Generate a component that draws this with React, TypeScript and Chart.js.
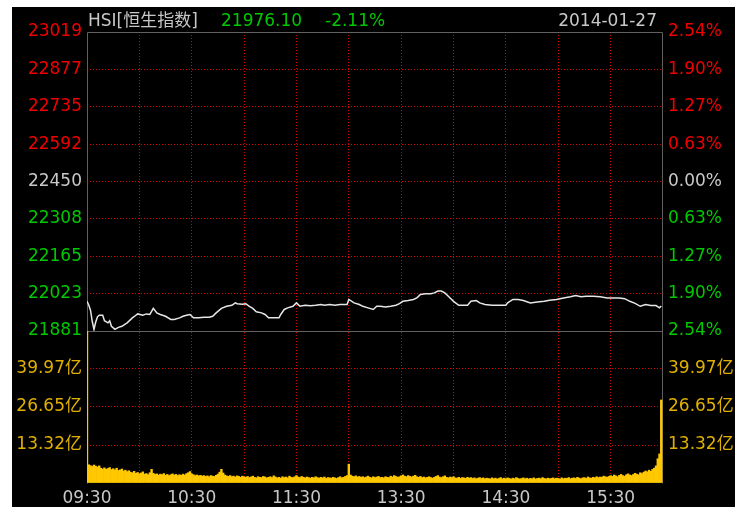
import React, { useEffect, useRef } from 'react';
import { Chart, registerables } from 'chart.js';

Chart.register(...registerables);

// ---- header text ----
const indexName = 'HSI[恒生指数]';
const lastPrice = '21976.10';
const changePct = '-2.11%';
const tradeDate = '2014-01-27';
const preClose = 22450;

// ---- price line (minute index from 09:30, index value) ----
const priceMinutes = [
  0, 1, 2, 3, 4, 5, 6, 7, 9, 10, 12, 13, 14, 16, 18, 20, 23, 26, 28, 29,
  32, 34, 36, 38, 40, 42, 45, 48, 50, 53, 55, 57, 59, 61, 64, 67, 70, 72, 74, 77,
  80, 83, 85, 86, 89, 91, 93, 95, 97, 100, 102, 104, 107, 110, 111, 113, 115, 118, 120, 122,
  125, 128, 131, 134, 136, 139, 142, 145, 149, 150, 153, 156, 158, 161, 164, 166, 168, 171, 174, 177,
  179, 181, 184, 187, 189, 191, 194, 197, 199, 201, 203, 205, 207, 210, 213, 216, 218, 220, 223, 225,
  228, 232, 235, 238, 240, 241, 244, 247, 250, 254, 258, 262, 265, 269, 273, 277, 280, 283, 286, 290,
  294, 298, 302, 305, 308, 311, 314, 317, 320, 323, 326, 328, 329,
];
const priceValues = [
  21994, 21980, 21960, 21918, 21887, 21915, 21935, 21941, 21941, 21920, 21912, 21920, 21899, 21887, 21895, 21899, 21912, 21931, 21941, 21946,
  21941, 21946, 21944, 21967, 21950, 21944, 21937, 21925, 21925, 21931, 21937, 21941, 21944, 21931, 21931, 21933, 21933, 21937, 21950, 21967,
  21975, 21979, 21988, 21985, 21983, 21985, 21975, 21967, 21954, 21950, 21944, 21931, 21931, 21931, 21944, 21963, 21969, 21975, 21988, 21975,
  21979, 21977, 21979, 21982, 21979, 21982, 21979, 21982, 21982, 22001, 21988, 21982, 21975, 21969, 21963, 21975, 21975, 21972, 21975, 21979,
  21985, 21994, 21997, 22001, 22007, 22020, 22023, 22023, 22026, 22033, 22033, 22026, 22013, 21994, 21979, 21979, 21979, 21994, 21997, 21988,
  21982, 21979, 21979, 21979, 21979, 21988, 22001, 22001, 21997, 21988, 21991, 21994, 21998, 22001, 22007, 22011, 22016, 22011, 22013, 22013,
  22011, 22007, 22007, 22007, 22004, 21994, 21986, 21975, 21982, 21978, 21978, 21969, 21976,
];

// ---- volume per minute (亿), from 09:30 ----
const volumeValues = [
  53.2, 6.4, 6.1, 5.8, 6.3, 5.9, 5.6, 6.0, 5.2, 4.9,
  5.3, 4.8, 5.1, 5.4, 4.7, 5.0, 4.6, 5.2, 4.4, 4.6,
  4.9, 4.2, 4.5, 4.0, 4.3, 3.8, 3.6, 4.1, 3.4, 3.7,
  3.2, 3.5, 3.9, 3.1, 3.3, 2.9, 3.6, 4.8, 3.4, 3.0,
  3.2, 2.8, 3.1, 2.9, 3.3, 2.7, 3.0, 2.6, 2.9, 3.2,
  2.8, 3.0, 2.6, 2.9, 2.7, 3.1, 2.8, 3.3, 3.6, 4.0,
  3.2, 2.9, 2.6, 2.8, 2.5, 2.7, 2.4, 2.6, 2.3, 2.5,
  2.2, 2.6, 2.4, 2.3, 2.7, 3.1, 3.8, 4.8, 3.5, 2.8,
  2.5, 2.3, 2.6, 2.2, 2.4, 2.1, 2.5, 2.3, 2.0, 2.4,
  2.2, 2.0, 2.3, 1.9, 2.1, 2.4, 2.0, 1.8, 2.2, 2.0,
  1.9, 2.3, 2.1, 1.8, 2.0, 2.2, 1.9, 2.5, 2.1, 1.8,
  2.0, 1.7, 2.2, 1.9, 2.1, 1.8, 2.4, 2.0, 1.9, 2.2,
  2.6, 2.1, 1.9, 2.3, 2.0, 1.8, 2.1, 1.9, 1.7, 2.0,
  1.8, 2.2, 1.9, 1.7, 2.0, 1.8, 2.1, 1.6, 1.9, 1.8,
  1.7, 2.0, 1.8, 1.6, 1.9, 2.2, 1.8, 2.0, 2.3, 2.6,
  6.6, 2.8, 2.4, 2.2, 2.5, 2.1, 2.3, 2.0, 2.2, 1.9,
  2.1, 2.4, 2.0, 1.8, 2.2, 1.9, 2.1, 2.3, 1.9, 2.0,
  1.8, 2.2, 2.0, 1.9, 2.4, 2.1, 2.6, 2.3, 2.0, 2.2,
  2.5, 2.8, 2.4, 2.2, 2.6, 2.3, 2.1, 2.4, 2.7, 2.2,
  2.0, 2.3, 1.9, 2.1, 1.8, 2.0, 2.2, 1.9, 1.7, 2.0,
  2.3, 2.6, 2.1, 1.9, 2.2, 2.5, 2.0, 1.8, 2.1, 1.9,
  2.2, 1.8, 1.7, 2.0, 1.6, 1.9, 1.8, 1.6, 2.0, 1.7,
  1.9, 1.6, 1.8, 1.5, 1.7, 1.9, 1.6, 1.8, 1.5, 1.7,
  1.6, 1.4, 1.8, 1.5, 1.7, 1.4, 1.6, 1.9, 1.5, 1.7,
  1.5, 1.8, 1.6, 1.4, 1.7, 1.5, 1.9, 1.6, 1.4, 1.6,
  1.8, 1.5, 1.7, 1.4, 1.6, 1.5, 1.8, 1.4, 1.6, 1.7,
  1.5, 1.9, 1.6, 1.4, 1.7, 1.5, 1.6, 1.8, 1.5, 1.7,
  1.6, 1.4, 1.8, 1.5, 1.7, 1.6, 1.9, 1.5, 1.7, 1.8,
  1.6, 2.0, 1.7, 1.5, 1.8, 1.9, 1.6, 2.1, 1.8, 1.7,
  2.0, 1.8, 2.2, 1.9, 2.1, 2.0, 2.4, 2.2, 2.0, 2.3,
  2.6, 2.3, 2.8, 2.5, 2.2, 2.7, 3.0, 2.6, 2.4, 2.9,
  3.2, 2.8, 2.6, 3.0, 3.4, 3.1, 2.9, 3.6, 3.3, 3.8,
  4.2, 3.9, 4.5, 4.1, 4.8, 5.2, 6.0, 8.5, 10.2, 29.1,
];

// ---- axes ----
const priceTickValues = [21881, 22023, 22165, 22308, 22450, 22592, 22735, 22877, 23019];
const pctTickLabels = ['2.54%', '1.90%', '1.27%', '0.63%', '0.00%', '0.63%', '1.27%', '1.90%', '2.54%'];
const volumeTickValues = [0, 13.32, 26.65, 39.97, 53.29];
const volumeTickLabels = ['', '13.32亿', '26.65亿', '39.97亿', ''];
const timeGridMinutes = [0, 30, 60, 90, 120, 150, 180, 210, 240, 270, 300, 330];
const timeLabelMinutes = [0, 60, 120, 180, 240, 300];
const timeLabels = ['09:30', '10:30', '11:30', '13:30', '14:30', '15:30'];

const RED = '#f00000';
const GREEN = '#00c800';
const GREY = '#c8c8c8';
const GOLD = '#e0b000';
const GRID = '#d80000';
const FONT = '"DejaVu Sans", "Noto Sans CJK SC", sans-serif';

const levelColor = (v: number) => (v > preClose ? RED : v < preClose ? GREEN : GREY);

const framePlugin = {
  id: 'frame',
  beforeDatasetsDraw(chart: any) {
    const { ctx, chartArea } = chart;
    const L = Math.floor(chartArea.left) + 0.5;
    const R = Math.floor(chartArea.right) - 0.5;
    const T = Math.floor(chartArea.top) + 0.5;
    const B = Math.floor(chartArea.bottom) + 0.5;
    const S = Math.floor(chart.scales.yP.bottom) + 0.5;
    ctx.save();
    ctx.strokeStyle = '#606060';
    ctx.lineWidth = 1;
    ctx.beginPath();
    ctx.moveTo(L, B);
    ctx.lineTo(L, T);
    ctx.lineTo(R, T);
    ctx.lineTo(R, B);
    ctx.moveTo(L, S);
    ctx.lineTo(R, S);
    ctx.stroke();
    ctx.restore();
  },
};

export default function App() {
  const ref = useRef<HTMLCanvasElement | null>(null);

  useEffect(() => {
    if (!ref.current) return;
    Chart.defaults.font.family = FONT;
    Chart.defaults.font.size = 17;
    const innerGrid = (n: number) => (c: any) => (c.index === 0 || c.index === n - 1 ? 'transparent' : GRID);

    const chart = new Chart(ref.current, {
      data: {
        datasets: [
          {
            type: 'line',
            data: priceMinutes.map((m, i) => ({ x: m, y: priceValues[i] })),
            xAxisID: 'x',
            yAxisID: 'yP',
            borderColor: '#e6e6e6',
            borderWidth: 1.5,
            pointRadius: 0,
            tension: 0,
          },
          {
            type: 'bar',
            data: volumeValues.map((v, i) => ({ x: i, y: v })),
            xAxisID: 'x',
            yAxisID: 'yV',
            backgroundColor: '#ffc800',
            borderWidth: 0,
            barPercentage: 1,
            categoryPercentage: 1,
          },
        ],
      } as any,
      options: {
        responsive: false,
        animation: false,
        layout: { padding: { top: 25, left: 0, right: 0, bottom: 0 } },
        plugins: { legend: { display: false }, tooltip: { enabled: false } },
        scales: {
          x: {
            type: 'linear',
            position: 'bottom',
            offset: false,
            min: 0,
            max: 330,
            afterBuildTicks: (s: any) => { s.ticks = timeGridMinutes.map((v) => ({ value: v })); },
            afterFit: (s: any) => { s.height = 24; },
            grid: { offset: false, color: innerGrid(timeGridMinutes.length), lineWidth: 1, drawTicks: false },
            border: { display: false, dash: [1, 2] },
            ticks: {
              autoSkip: false,
              maxRotation: 0,
              padding: 5,
              color: GREY,
              callback: (v: any) => {
                const k = timeLabelMinutes.indexOf(Number(v));
                return k >= 0 ? timeLabels[k] : '';
              },
            },
          },
          yP: {
            type: 'linear',
            position: 'left',
            stack: 'left',
            stackWeight: 299,
            weight: 1,
            min: priceTickValues[0],
            max: priceTickValues[priceTickValues.length - 1],
            afterBuildTicks: (s: any) => { s.ticks = priceTickValues.map((v) => ({ value: v })); },
            afterFit: (s: any) => { s.width = 75; },
            grid: { color: innerGrid(priceTickValues.length), lineWidth: 1, drawTicks: false },
            border: { display: false, dash: [1, 2] },
            ticks: {
              autoSkip: false,
              padding: 5,
              color: (c: any) => levelColor(priceTickValues[c.index]),
              callback: (_v: any, i: number) => String(priceTickValues[i]),
            },
          },
          yV: {
            type: 'linear',
            position: 'left',
            stack: 'left',
            stackWeight: 152,
            weight: 0,
            min: volumeTickValues[0],
            max: volumeTickValues[volumeTickValues.length - 1],
            afterBuildTicks: (s: any) => { s.ticks = volumeTickValues.map((v) => ({ value: v })); },
            afterFit: (s: any) => { s.width = 75; },
            grid: { color: innerGrid(volumeTickValues.length), lineWidth: 1, drawTicks: false },
            border: { display: false, dash: [1, 2] },
            ticks: {
              autoSkip: false,
              padding: 5,
              color: GOLD,
              callback: (_v: any, i: number) => volumeTickLabels[i],
            },
          },
          yPct: {
            type: 'linear',
            position: 'right',
            stack: 'right',
            stackWeight: 299,
            weight: 0,
            min: priceTickValues[0],
            max: priceTickValues[priceTickValues.length - 1],
            afterBuildTicks: (s: any) => { s.ticks = priceTickValues.map((v) => ({ value: v })); },
            afterFit: (s: any) => { s.width = 72; },
            grid: { display: false, drawTicks: false },
            border: { display: false },
            ticks: {
              autoSkip: false,
              padding: 5,
              color: (c: any) => levelColor(priceTickValues[c.index]),
              callback: (_v: any, i: number) => pctTickLabels[i],
            },
          },
          yV2: {
            type: 'linear',
            position: 'right',
            stack: 'right',
            stackWeight: 152,
            weight: 1,
            min: volumeTickValues[0],
            max: volumeTickValues[volumeTickValues.length - 1],
            afterBuildTicks: (s: any) => { s.ticks = volumeTickValues.map((v) => ({ value: v })); },
            afterFit: (s: any) => { s.width = 72; },
            grid: { display: false, drawTicks: false },
            border: { display: false },
            ticks: {
              autoSkip: false,
              padding: 5,
              color: GOLD,
              callback: (_v: any, i: number) => volumeTickLabels[i],
            },
          },
        },
      } as any,
      plugins: [framePlugin],
    });
    return () => chart.destroy();
  }, []);

  const textBase: React.CSSProperties = {
    position: 'absolute',
    top: 3,
    fontSize: 17,
    lineHeight: '20px',
    whiteSpace: 'nowrap',
    fontFamily: FONT,
  };

  return (
    <div style={{ position: 'absolute', left: 12, top: 7, width: 723, height: 500, background: '#000', overflow: 'hidden' }}>
      <canvas ref={ref} width={723} height={500} style={{ position: 'absolute', left: 0, top: 0 }} />
      <div style={{ ...textBase, left: 76, color: GREY }}>{indexName}</div>
      <div style={{ ...textBase, left: 209, color: GREEN }}>{lastPrice}</div>
      <div style={{ ...textBase, left: 313, color: GREEN }}>{changePct}</div>
      <div style={{ ...textBase, right: 78, color: GREY }}>{tradeDate}</div>
    </div>
  );
}
